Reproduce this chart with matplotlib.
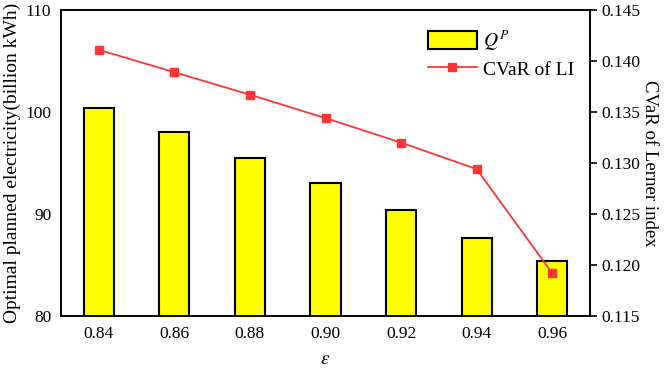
import matplotlib
matplotlib.use("Agg")
import matplotlib.pyplot as plt
import numpy as np

plt.rcParams['font.family'] = ['Liberation Serif', 'DejaVu Serif']
plt.rcParams['mathtext.fontset'] = 'stix'

categories = ["0.84", "0.86", "0.88", "0.90", "0.92", "0.94", "0.96"]
qp_values = [100.4, 98.0, 95.5, 93.0, 90.4, 87.6, 85.4]
cvar_values = [0.1411, 0.1389, 0.1367, 0.1344, 0.1320, 0.1294, 0.1192]
left_ticks = [80, 90, 100, 110]
right_ticks = [0.115, 0.120, 0.125, 0.130, 0.135, 0.140, 0.145]

fs = 12.5
lfs = 14
fig = plt.figure(figsize=(6.64, 3.68), dpi=100)
ax = fig.add_axes([61/664, 1-316/368, (590-61)/664, (316-10)/368])
x = np.arange(len(categories))
bars = ax.bar(x, qp_values, width=0.4, color='#FFFF00', edgecolor='black',
              linewidth=1.5, label=r'$Q^P$', zorder=2)
ax.set_xlim(-0.5, len(categories) - 0.5)
ax.set_ylim(80, 110)
ax.set_yticks(left_ticks)
ax.set_xticks(x)
ax.set_xticklabels(categories)
ax.tick_params(axis='both', length=0, labelsize=fs, pad=7)
ax.set_ylabel('Optimal planned electricity(billion kWh)', fontsize=lfs, labelpad=3)
ax.set_xlabel(r'$\varepsilon$', fontsize=lfs, labelpad=7)
for s in ax.spines.values():
    s.set_linewidth(1.2)

ax2 = ax.twinx()
line, = ax2.plot(x, cvar_values, color='#FF3535', linewidth=1.3, marker='s',
                 markersize=6, label='CVaR of LI', zorder=3)
ax2.set_ylim(0.115, 0.145)
ax2.set_yticks(right_ticks)
ax2.set_yticklabels([f"{v:.3f}" for v in right_ticks])
ax2.tick_params(axis='y', direction='out', length=5, width=1.2, labelsize=fs, pad=3)
ax2.set_ylabel('CVaR of Lerner index', fontsize=13.5, rotation=270, labelpad=13)
for s in ax2.spines.values():
    s.set_linewidth(1.2)

ax2.legend([bars, line], [r'$Q^P$', 'CVaR of LI'], loc='upper left',
           bbox_to_anchor=(0.694, 0.94), frameon=False, borderpad=0,
           handlelength=2.5, handleheight=1.0, handletextpad=0.3,
           labelspacing=0.35, fontsize=lfs, borderaxespad=0)

fig.savefig('out.png', dpi=100)
